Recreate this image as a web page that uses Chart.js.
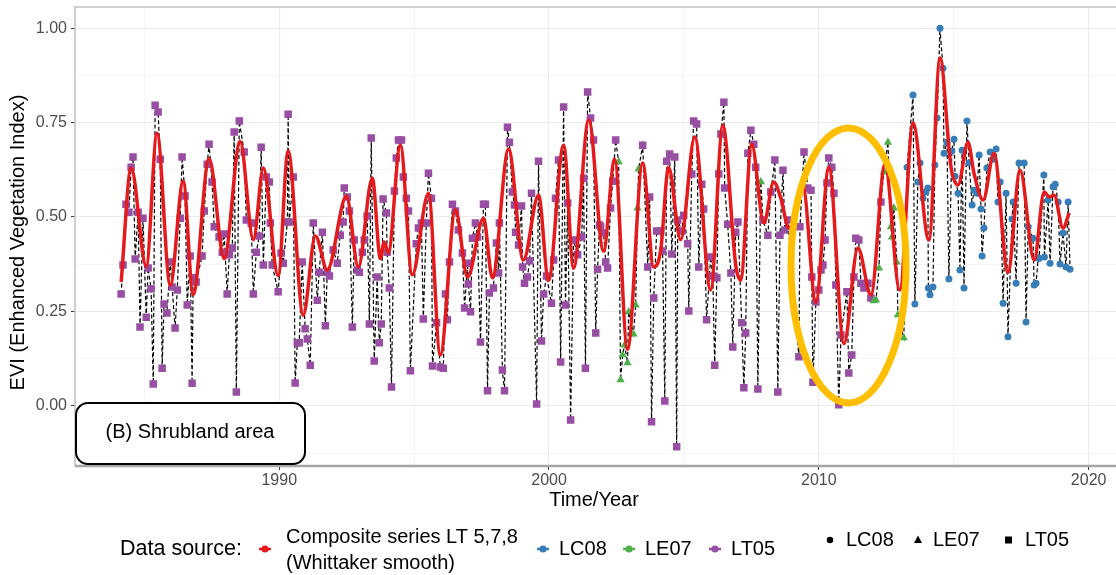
<!DOCTYPE html>
<html lang="en">
<head>
<meta charset="utf-8">
<title>EVI - Shrubland area</title>
<script src="https://cdn.jsdelivr.net/npm/chart.js@4.4.1/dist/chart.umd.min.js"></script>
<style>
  html, body { margin: 0; padding: 0; background: #fff; overflow: hidden; }
  #grafico { display: block; }
</style>
</head>
<body>
<canvas id="grafico" width="1122" height="575"></canvas>
<script>
// Landsat 5 (LT05) - ano decimal e EVI
const anosLT05 = [
  1984.14, 1984.21, 1984.32, 1984.43, 1984.51, 1984.58, 1984.66, 1984.77, 1984.84, 1984.95,
  1985.07, 1985.14, 1985.25, 1985.33, 1985.40, 1985.51, 1985.59, 1985.66, 1985.73, 1985.84,
  1985.96, 1986.03, 1986.14, 1986.22, 1986.33, 1986.40, 1986.51, 1986.59, 1986.70, 1986.77,
  1986.81, 1986.92, 1987.14, 1987.22, 1987.33, 1987.40, 1987.51, 1987.59, 1987.77, 1987.89,
  1987.96, 1988.07, 1988.15, 1988.26, 1988.33, 1988.41, 1988.52, 1988.70, 1988.78, 1988.96,
  1989.04, 1989.15, 1989.26, 1989.33, 1989.41, 1989.52, 1989.63, 1989.67, 1989.74, 1989.96,
  1990.07, 1990.15, 1990.30, 1990.33, 1990.37, 1990.52, 1990.59, 1990.67, 1990.74, 1990.85,
  1990.96, 1991.04, 1991.15, 1991.26, 1991.41, 1991.48, 1991.60, 1991.71, 1991.78, 1991.86,
  1992.00, 1992.15, 1992.26, 1992.37, 1992.41, 1992.52, 1992.60, 1992.71, 1992.78, 1992.89,
  1992.97, 1993.08, 1993.15, 1993.26, 1993.34, 1993.41, 1993.52, 1993.63, 1993.71, 1993.78,
  1993.85, 1993.97, 1994.00, 1994.08, 1994.16, 1994.27, 1994.34, 1994.42, 1994.53, 1994.60,
  1994.71, 1994.79, 1994.86, 1995.08, 1995.16, 1995.27, 1995.34, 1995.45, 1995.53, 1995.64,
  1995.68, 1995.83, 1995.97, 1996.08, 1996.16, 1996.23, 1996.31, 1996.42, 1996.53, 1996.64,
  1996.79, 1996.87, 1996.98, 1997.01, 1997.09, 1997.16, 1997.27, 1997.35, 1997.46, 1997.57,
  1997.64, 1997.72, 1997.79, 1997.94, 1998.05, 1998.13, 1998.16, 1998.27, 1998.35, 1998.46,
  1998.53, 1998.64, 1998.72, 1998.76, 1998.87, 1998.98, 1999.02, 1999.09, 1999.20, 1999.28,
  1999.35, 1999.54, 1999.61, 1999.72, 1999.80, 1999.91, 2000.09, 2000.17, 2000.24, 2000.35,
  2000.43, 2000.54, 2000.61, 2000.69, 2000.80, 2000.91, 2001.06, 2001.21, 2001.28, 2001.35,
  2001.43, 2001.54, 2001.65, 2001.73, 2001.80, 2001.87, 2001.91, 2002.02, 2002.10, 2002.17,
  2002.28, 2002.36, 2002.47, 2003.47, 2003.66, 2003.73, 2003.80, 2003.88, 2003.99, 2004.14,
  2004.21, 2004.29, 2004.36, 2004.47, 2004.55, 2004.66, 2004.73, 2004.77, 2004.92, 2004.99,
  2005.14, 2005.18, 2005.29, 2005.36, 2005.47, 2005.55, 2005.66, 2005.73, 2005.84, 2005.99,
  2006.07, 2006.14, 2006.22, 2006.29, 2006.37, 2006.48, 2006.51, 2006.62, 2006.74, 2006.81,
  2006.92, 2007.00, 2007.14, 2007.22, 2007.29, 2007.37, 2007.48, 2007.59, 2007.66, 2007.74,
  2007.93, 2008.11, 2008.22, 2008.37, 2008.48, 2008.56, 2008.67, 2008.74, 2008.85, 2009.26,
  2009.30, 2009.45, 2009.59, 2009.71, 2009.74, 2009.78, 2009.89, 2010.00, 2010.08, 2010.15,
  2010.23, 2010.30, 2010.37, 2010.48, 2010.56, 2010.63, 2010.74, 2010.82, 2011.04, 2011.11,
  2011.22, 2011.30, 2011.37, 2011.48, 2011.56, 2011.67, 2011.82, 2011.93, 2012.30
];
const eviLT05 = [
  0.296, 0.373, 0.534, 0.513, 0.632, 0.659, 0.389, 0.513, 0.209, 0.497,
  0.235, 0.365, 0.310, 0.058, 0.796, 0.778, 0.653, 0.100, 0.270, 0.246,
  0.381, 0.315, 0.206, 0.307, 0.497, 0.659, 0.556, 0.267, 0.397, 0.060,
  0.339, 0.328, 0.397, 0.516, 0.640, 0.693, 0.593, 0.474, 0.447, 0.407,
  0.455, 0.296, 0.400, 0.418, 0.725, 0.037, 0.754, 0.672, 0.492, 0.484,
  0.296, 0.407, 0.450, 0.685, 0.373, 0.606, 0.593, 0.484, 0.373, 0.302,
  0.405, 0.378, 0.487, 0.772, 0.487, 0.606, 0.061, 0.167, 0.167, 0.381,
  0.204, 0.177, 0.108, 0.484, 0.280, 0.354, 0.460, 0.212, 0.354, 0.344,
  0.413, 0.378, 0.452, 0.487, 0.577, 0.553, 0.516, 0.209, 0.439, 0.360,
  0.354, 0.407, 0.439, 0.503, 0.217, 0.709, 0.119, 0.341, 0.167, 0.217,
  0.548, 0.511, 0.407, 0.312, 0.050, 0.569, 0.656, 0.704, 0.704, 0.606,
  0.550, 0.516, 0.093, 0.429, 0.471, 0.484, 0.230, 0.484, 0.616, 0.550,
  0.106, 0.220, 0.103, 0.100, 0.296, 0.228, 0.381, 0.534, 0.516, 0.466,
  0.405, 0.259, 0.378, 0.323, 0.249, 0.444, 0.484, 0.447, 0.169, 0.534,
  0.534, 0.040, 0.299, 0.312, 0.431, 0.352, 0.484, 0.095, 0.040, 0.738,
  0.698, 0.566, 0.532, 0.460, 0.426, 0.529, 0.368, 0.325, 0.341, 0.384,
  0.563, 0.005, 0.648, 0.172, 0.296, 0.344, 0.272, 0.386, 0.550, 0.651,
  0.116, 0.791, 0.267, 0.537, -0.037, 0.439, 0.400, 0.447, 0.603, 0.100,
  0.831, 0.762, 0.704, 0.193, 0.362, 0.479, 0.474, 0.458, 0.381, 0.365,
  0.524, 0.595, 0.704, 0.690, 0.368, 0.553, -0.042, 0.286, 0.463, 0.463,
  0.410, 0.013, 0.648, 0.667, 0.402, 0.659, -0.108, 0.492, 0.463, 0.505,
  0.429, 0.251, 0.614, 0.754, 0.746, 0.368, 0.587, 0.521, 0.228, 0.394,
  0.344, 0.108, 0.339, 0.614, 0.720, 0.804, 0.577, 0.481, 0.352, 0.156,
  0.460, 0.487, 0.220, 0.048, 0.193, 0.669, 0.730, 0.693, 0.632, 0.045,
  0.492, 0.452, 0.566, 0.651, 0.037, 0.452, 0.624, 0.466, 0.492, 0.130,
  0.474, 0.672, 0.577, 0.571, 0.341, 0.063, 0.275, 0.307, 0.360, 0.373,
  0.439, 0.590, 0.656, 0.632, 0.563, 0.320, 0.003, 0.188, 0.302, 0.087,
  0.135, 0.341, 0.444, 0.439, 0.325, 0.312, 0.325, 0.286, 0.540
];

// Landsat 7 (LE07)
const anosLE07 = [
  2002.58, 2002.65, 2002.73, 2002.80, 2002.91, 2002.95, 2003.13, 2003.21, 2003.28, 2003.32,
  2007.85, 2012.04, 2012.12, 2012.23, 2012.41, 2012.56, 2012.67, 2012.71, 2012.78, 2012.89,
  2012.93, 2013.15
];
const eviLE07 = [
  0.646, 0.069, 0.135, 0.161, 0.114, 0.249, 0.190, 0.267, 0.524, 0.627,
  0.593, 0.278, 0.280, 0.365, 0.619, 0.698, 0.474, 0.447, 0.524, 0.381,
  0.241, 0.180
];

// Landsat 8 (LC08)
const anosLC08 = [
  2013.27, 2013.49, 2013.56, 2013.67, 2013.75, 2013.86, 2013.97, 2014.04, 2014.06, 2014.12,
  2014.23, 2014.30, 2014.38, 2014.49, 2014.60, 2014.64, 2014.75, 2014.82, 2014.93, 2015.01,
  2015.05, 2015.16, 2015.23, 2015.31, 2015.38, 2015.49, 2015.57, 2015.68, 2015.75, 2015.86,
  2015.94, 2016.01, 2016.05, 2016.12, 2016.23, 2016.35, 2016.46, 2016.57, 2016.64, 2016.72,
  2016.83, 2016.94, 2017.01, 2017.16, 2017.20, 2017.31, 2017.42, 2017.61, 2017.68, 2017.76,
  2017.94, 2017.98, 2018.05, 2018.13, 2018.16, 2018.34, 2018.36, 2018.50, 2018.57, 2018.68,
  2018.76, 2018.87, 2018.94, 2019.05, 2019.16, 2019.24, 2019.31
];
const eviLC08 = [
  0.632, 0.823, 0.270, 0.593, 0.643, 0.550, 0.566, 0.577, 0.312, 0.294,
  0.315, 0.638, 0.762, 1.000, 0.894, 0.669, 0.698, 0.336, 0.675, 0.706,
  0.608, 0.563, 0.360, 0.677, 0.312, 0.754, 0.643, 0.532, 0.571, 0.563,
  0.664, 0.521, 0.397, 0.471, 0.630, 0.672, 0.653, 0.680, 0.540, 0.593,
  0.272, 0.563, 0.183, 0.495, 0.540, 0.325, 0.643, 0.643, 0.222, 0.474,
  0.444, 0.320, 0.325, 0.392, 0.390, 0.611, 0.394, 0.545, 0.378, 0.580,
  0.587, 0.540, 0.376, 0.458, 0.368, 0.540, 0.362
];

// Serie composta suavizada (Whittaker)
const anosSuave = [
  1984.14, 1984.51, 1985.07, 1985.47, 1985.96, 1986.44, 1986.81, 1987.40, 1987.96, 1988.55,
  1989.04, 1989.41, 1989.96, 1990.33, 1990.89, 1991.34, 1991.78, 1992.49, 1992.93, 1993.45,
  1993.75, 1993.89, 1994.04, 1994.49, 1994.93, 1995.53, 1995.97, 1996.53, 1996.98, 1997.57,
  1997.90, 1998.50, 1999.05, 1999.61, 1999.98, 2000.54, 2000.91, 2001.47, 2002.02, 2002.43,
  2002.91, 2003.47, 2003.88, 2004.14, 2004.43, 2004.88, 2005.40, 2005.99, 2006.44, 2006.92,
  2007.10, 2007.51, 2007.96, 2008.33, 2008.59, 2008.89, 2009.41, 2009.89, 2010.37, 2010.93,
  2011.45, 2011.93, 2012.45, 2013.00, 2013.49, 2014.08, 2014.49, 2014.90, 2015.16, 2015.53,
  2015.75, 2016.09, 2016.49, 2017.01, 2017.46, 2017.98, 2018.35, 2018.54, 2018.72, 2019.05,
  2019.28
];
const eviSuave = [
  0.328, 0.630, 0.370, 0.722, 0.320, 0.595, 0.295, 0.655, 0.390, 0.700,
  0.440, 0.630, 0.345, 0.675, 0.240, 0.450, 0.360, 0.555, 0.368, 0.603,
  0.390, 0.434, 0.405, 0.690, 0.347, 0.563, 0.135, 0.519, 0.341, 0.497,
  0.339, 0.680, 0.386, 0.558, 0.333, 0.690, 0.365, 0.757, 0.410, 0.653,
  0.150, 0.643, 0.368, 0.413, 0.632, 0.440, 0.712, 0.307, 0.743, 0.373,
  0.333, 0.693, 0.484, 0.593, 0.550, 0.471, 0.580, 0.275, 0.632, 0.165,
  0.418, 0.294, 0.640, 0.307, 0.749, 0.439, 0.921, 0.632, 0.585, 0.698,
  0.616, 0.545, 0.669, 0.354, 0.624, 0.386, 0.566, 0.553, 0.558, 0.471,
  0.511
];

// Marcas dos eixos
const marcasX = [1990, 2000, 2010, 2020];
const grelhaMenorX = [1985, 1995, 2005, 2015];
const marcasY = [0, 0.25, 0.5, 0.75, 1.0];
const grelhaMenorY = [-0.125, 0.125, 0.375, 0.625, 0.875];

// Elipse de destaque (em unidades de ano / EVI)
const elipse = { ano: 2011.1, evi: 0.372, raioAnos: 2.13, raioEvi: 0.364 };

const vermelho = "#E41A1C";
const azul = "#377EB8";
const verde = "#4DAF4A";
const roxo = "#984EA3";
const fonte = '"Liberation Sans", Arial, sans-serif';

function pontos(anos, valores) {
  return anos.map((a, i) => ({ x: a, y: valores[i] }));
}

// todas as observacoes em ordem cronologica (linha tracejada)
const todasObs = [
  ...pontos(anosLT05, eviLT05),
  ...pontos(anosLE07, eviLE07),
  ...pontos(anosLC08, eviLC08),
].sort((a, b) => a.x - b.x);

function caixaArredondada(ctx, x, y, w, h, r) {
  ctx.beginPath();
  ctx.moveTo(x + r, y);
  ctx.arcTo(x + w, y, x + w, y + h, r);
  ctx.arcTo(x + w, y + h, x, y + h, r);
  ctx.arcTo(x, y + h, x, y, r);
  ctx.arcTo(x, y, x + w, y, r);
  ctx.closePath();
}

// chave da legenda de cor: traço curto com ponto
function chaveCor(ctx, cx, cy, cor) {
  ctx.save();
  ctx.strokeStyle = cor;
  ctx.lineWidth = 2.5;
  ctx.beginPath();
  ctx.moveTo(cx - 6, cy);
  ctx.lineTo(cx + 6, cy);
  ctx.stroke();
  ctx.fillStyle = cor;
  ctx.beginPath();
  ctx.arc(cx, cy, 3.6, 0, Math.PI * 2);
  ctx.fill();
  ctx.restore();
}

const extras = {
  id: "extras",
  afterDraw(chart) {
    const { ctx, chartArea: a, scales } = chart;
    ctx.save();

    // moldura do painel (topo, esquerda e base)
    ctx.strokeStyle = "#C4C4C4";
    ctx.lineWidth = 1.6;
    ctx.beginPath();
    ctx.moveTo(a.right + 6, a.top);
    ctx.lineTo(a.left, a.top);
    ctx.lineTo(a.left, a.bottom);
    ctx.stroke();
    ctx.strokeStyle = "#A6A6A6";
    ctx.lineWidth = 2.4;
    ctx.beginPath();
    ctx.moveTo(a.left, a.bottom);
    ctx.lineTo(a.right + 6, a.bottom);
    ctx.stroke();

    // caixa com o nome da area
    caixaArredondada(ctx, a.left + 1, a.bottom - 63, 229, 61, 12);
    ctx.fillStyle = "#fff";
    ctx.fill();
    ctx.strokeStyle = "#000";
    ctx.lineWidth = 2;
    ctx.stroke();
    ctx.fillStyle = "#000";
    ctx.font = "20px " + fonte;
    ctx.textAlign = "center";
    ctx.textBaseline = "middle";
    ctx.fillText("(B) Shrubland area", a.left + 115, a.bottom - 34);

    // elipse laranja
    const x = scales.x, y = scales.y;
    const cx = x.getPixelForValue(elipse.ano);
    const cy = y.getPixelForValue(elipse.evi);
    const rx = x.getPixelForValue(elipse.ano + elipse.raioAnos) - cx;
    const ry = cy - y.getPixelForValue(elipse.evi + elipse.raioEvi);
    ctx.strokeStyle = "#FFBF00";
    ctx.lineWidth = 7;
    ctx.beginPath();
    ctx.ellipse(cx, cy, rx, ry, 0, 0, Math.PI * 2);
    ctx.stroke();

    // titulos dos eixos
    ctx.fillStyle = "#000";
    ctx.font = "20px " + fonte;
    ctx.fillText("Time/Year", 594, 500);
    ctx.save();
    ctx.translate(18, (a.top + a.bottom) / 2 + 6);
    ctx.rotate(-Math.PI / 2);
    ctx.fillText("EVI (Enhanced Vegetation Index)", 0, 0);
    ctx.restore();

    // legenda
    ctx.textAlign = "left";
    ctx.fillStyle = "#000";
    ctx.font = "21.5px " + fonte;
    ctx.fillText("Data source:", 120, 549);
    ctx.font = "20px " + fonte;
    chaveCor(ctx, 265, 549, vermelho);
    ctx.fillText("Composite series LT 5,7,8", 286, 537);
    ctx.fillText("(Whittaker smooth)", 286, 563);
    chaveCor(ctx, 543, 549, azul);
    ctx.fillText("LC08", 559, 549);
    chaveCor(ctx, 629, 549, verde);
    ctx.fillText("LE07", 645, 549);
    chaveCor(ctx, 715, 549, roxo);
    ctx.fillText("LT05", 731, 549);

    ctx.beginPath();
    ctx.arc(830, 540, 3.2, 0, Math.PI * 2);
    ctx.fill();
    ctx.fillText("LC08", 846, 540);
    ctx.beginPath();
    ctx.moveTo(918, 535.5);
    ctx.lineTo(922, 543);
    ctx.lineTo(914, 543);
    ctx.closePath();
    ctx.fill();
    ctx.fillText("LE07", 933, 540);
    ctx.fillRect(1005, 536.5, 7, 7);
    ctx.fillText("LT05", 1025, 540);

    ctx.restore();
  },
};

const gradeCor = (marcas) => (c) =>
  c.tick && marcas.includes(c.tick.value) ? "#EBEBEB" : "#F3F3F3";
const gradeLargura = (marcas) => (c) =>
  c.tick && marcas.includes(c.tick.value) ? 1.1 : 0.8;
const marcaCor = (marcas) => (c) =>
  c.tick && marcas.includes(c.tick.value) ? "#333333" : "rgba(0,0,0,0)";

new Chart(document.getElementById("grafico"), {
  type: "line",
  data: {
    datasets: [
      {
        label: "Composite series LT 5,7,8 (Whittaker smooth)",
        data: pontos(anosSuave, eviSuave),
        borderColor: vermelho,
        borderWidth: 3.5,
        pointRadius: 0,
        cubicInterpolationMode: "monotone",
        order: 0,
      },
      {
        label: "LC08",
        data: pontos(anosLC08, eviLC08),
        showLine: false,
        pointStyle: "circle",
        pointRadius: 3.5,
        backgroundColor: azul,
        borderColor: azul,
        pointBorderWidth: 0,
        order: 1,
      },
      {
        label: "LE07",
        data: pontos(anosLE07, eviLE07),
        showLine: false,
        pointStyle: "triangle",
        pointRadius: 4.8,
        backgroundColor: verde,
        borderColor: verde,
        pointBorderWidth: 0,
        order: 1,
      },
      {
        label: "LT05",
        data: pontos(anosLT05, eviLT05),
        showLine: false,
        pointStyle: "rect",
        pointRadius: 5.3,
        backgroundColor: roxo,
        borderColor: roxo,
        pointBorderWidth: 0,
        order: 1,
      },
      {
        label: "observacoes",
        data: todasObs,
        borderColor: "#000",
        borderWidth: 1.2,
        borderDash: [4, 2.5],
        pointRadius: 0,
        tension: 0,
        order: 2,
      },
    ],
  },
  options: {
    responsive: false,
    animation: false,
    devicePixelRatio: 1,
    events: [],
    layout: { padding: { top: 7, right: 0, bottom: 0, left: 0 } },
    plugins: { legend: { display: false }, tooltip: { enabled: false } },
    scales: {
      x: {
        type: "linear",
        min: 1982.43,
        max: 2021.04,
        afterBuildTicks: (s) => {
          s.ticks = [...grelhaMenorX, ...marcasX].sort((p, q) => p - q).map((v) => ({ value: v }));
        },
        afterFit: (s) => {
          s.height = 109;
          s.paddingLeft = 0;
          s.paddingRight = 0;
        },
        ticks: {
          autoSkip: false,
          maxRotation: 0,
          padding: 1,
          color: "#4D4D4D",
          font: { family: fonte, size: 16 },
          callback: (v) => (marcasX.includes(v) ? String(v) : ""),
        },
        grid: {
          color: gradeCor(marcasX),
          lineWidth: gradeLargura(marcasX),
          tickColor: marcaCor(marcasX),
          tickLength: 4,
          tickWidth: 1,
        },
        border: { display: false },
      },
      y: {
        type: "linear",
        min: -0.159,
        max: 1.056,
        afterBuildTicks: (s) => {
          s.ticks = [...grelhaMenorY, ...marcasY].sort((p, q) => p - q).map((v) => ({ value: v }));
        },
        afterFit: (s) => {
          s.width = 75;
          s.paddingTop = 0;
          s.paddingBottom = 0;
        },
        ticks: {
          autoSkip: false,
          padding: 4,
          color: "#4D4D4D",
          font: { family: fonte, size: 16 },
          callback: (v) => (marcasY.includes(v) ? v.toFixed(2) : ""),
        },
        grid: {
          color: gradeCor(marcasY),
          lineWidth: gradeLargura(marcasY),
          tickColor: marcaCor(marcasY),
          tickLength: 4,
          tickWidth: 1,
        },
        border: { display: false },
      },
    },
  },
  plugins: [extras],
});
</script>
</body>
</html>
